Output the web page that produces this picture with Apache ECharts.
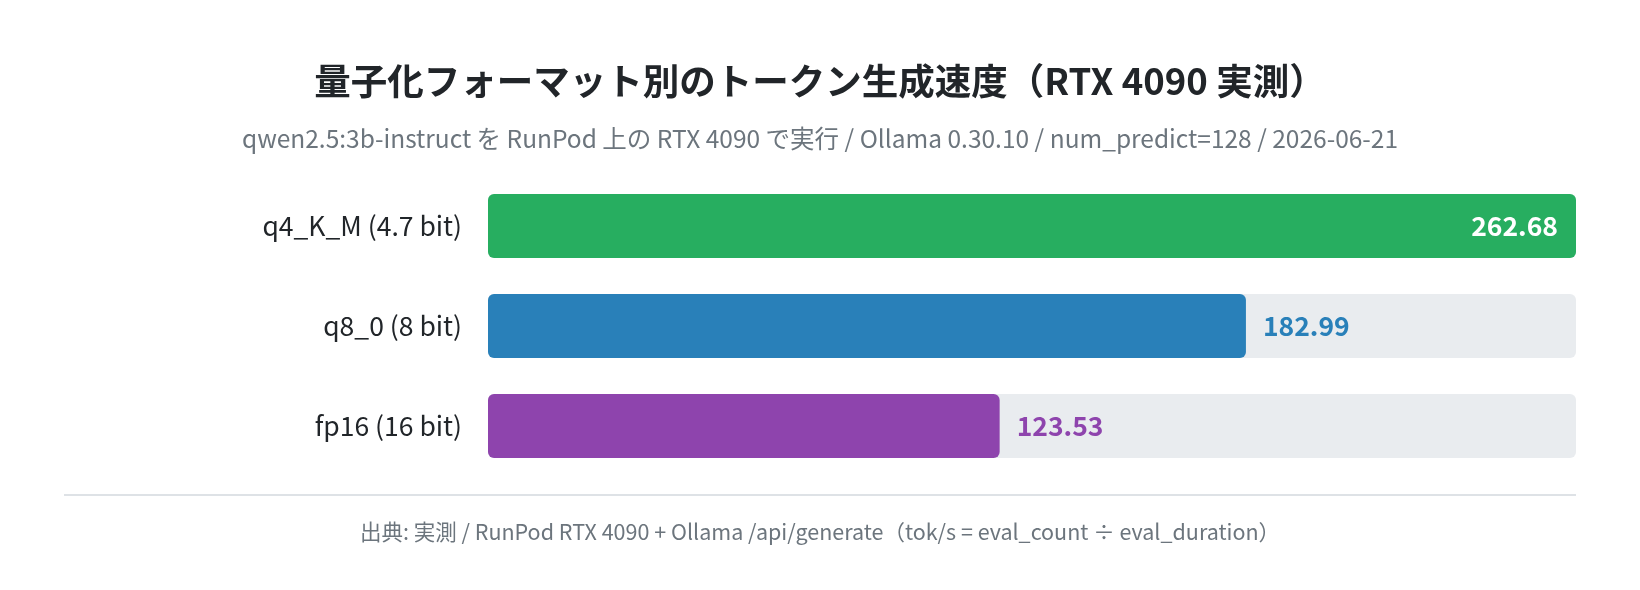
<!DOCTYPE html>
<html>
<head>
<meta charset="utf-8">
<script src="https://cdn.jsdelivr.net/npm/echarts@6/dist/echarts.min.js"></script>
<style>
  html, body { margin: 0; padding: 0; background: #fff; }
  #chart { width: 1640px; height: 590px; }
</style>
</head>
<body>
<div id="chart"></div>
<script>
// データ
var formats = ['q4_K_M (4.7 bit)', 'q8_0 (8 bit)', 'fp16 (16 bit)'];
var tokPerSec = [262.68, 182.99, 123.53];
var barColors = ['#27ae60', '#2980b9', '#8e44ad'];

var maxVal = Math.max.apply(null, tokPerSec);
var font = '"Noto Sans CJK JP", "Noto Sans", sans-serif';

var chart = echarts.init(document.getElementById('chart'));

var option = {
    backgroundColor: '#ffffff',
    textStyle: { fontFamily: font },
    title: [
        {
            text: '量子化フォーマット別のトークン生成速度（RTX 4090 実測）',
            left: 'center',
            top: 58,
            textStyle: { fontSize: 36.5, fontWeight: 'bold', color: '#212529', fontFamily: font }
        },
        {
            text: 'qwen2.5:3b-instruct を RunPod 上の RTX 4090 で実行 / Ollama 0.30.10 / num_predict=128 / 2026-06-21',
            left: 'center',
            top: 121,
            textStyle: { fontSize: 24.5, fontWeight: 'normal', color: '#6c757d', fontFamily: font }
        },
        {
            text: '出典: 実測 / RunPod RTX 4090 + Ollama /api/generate（tok/s = eval_count ÷ eval_duration）',
            left: 'center',
            top: 516,
            textStyle: { fontSize: 21.5, fontWeight: 'normal', color: '#6c757d', fontFamily: font }
        }
    ],
    graphic: [
        {
            type: 'line',
            shape: { x1: 64, y1: 495, x2: 1576, y2: 495 },
            style: { stroke: '#dee2e6', lineWidth: 2 }
        }
    ],
    grid: {
        left: 488,
        right: 64,
        top: 176,
        height: 300
    },
    xAxis: {
        type: 'value',
        min: 0,
        max: maxVal,
        show: false
    },
    yAxis: {
        type: 'category',
        inverse: true,
        data: formats,
        axisLine: { show: false },
        axisTick: { show: false },
        axisLabel: {
            fontSize: 26.5,
            color: '#212529',
            margin: 26,
            fontFamily: font
        }
    },
    series: [
        {
            type: 'bar',
            barWidth: 64,
            showBackground: true,
            backgroundStyle: {
                color: '#e9ecef',
                borderRadius: 6
            },
            data: tokPerSec.map(function (v, i) {
                var isMax = v === maxVal;
                return {
                    value: v,
                    itemStyle: { color: barColors[i], borderRadius: 6 },
                    label: {
                        show: true,
                        position: isMax ? 'insideRight' : 'right',
                        distance: isMax ? 18 : 17,
                        color: isMax ? '#ffffff' : barColors[i],
                        fontSize: 26.5,
                        fontWeight: 'bold',
                        fontFamily: font,
                        formatter: function (p) { return p.value.toFixed(2); }
                    }
                };
            })
        }
    ]
};

chart.setOption(option);
</script>
</body>
</html>
